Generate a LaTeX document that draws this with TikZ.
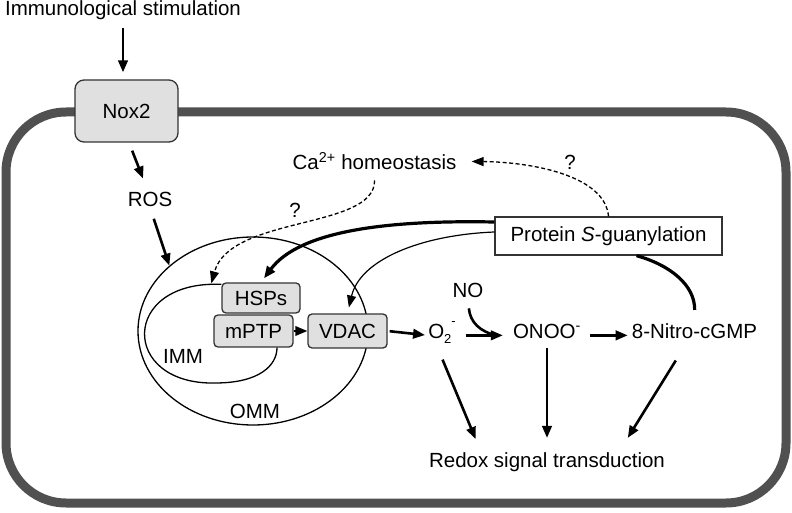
\documentclass[tikz,border=0pt]{standalone}
\usepackage{fontspec}
\setmainfont{Liberation Sans}
\usetikzlibrary{arrows.meta,shapes.geometric}
\definecolor{cellgray}{HTML}{505050}
\definecolor{boxfill}{HTML}{E0E0E0}
\definecolor{boxline}{HTML}{333333}
\newcommand{\lowtwo}{\raisebox{-0.28em}{\fontsize{13}{13}\selectfont 2}}
\newcommand{\highminus}{\raisebox{0.62em}{\fontsize{13}{13}\selectfont -}}
\begin{document}
\begin{tikzpicture}[x=1pt,y=-1pt,
  txt/.style={inner sep=0pt,anchor=base,font=\fontsize{20.5}{24}\selectfont},
  gbox/.style={draw=boxline,fill=boxfill,line width=1.3pt,rounded corners=4pt,inner sep=0pt,font=\fontsize{20.5}{24}\selectfont},
  arr/.style={line width=2.6pt,-{Triangle[length=12pt,width=9.5pt]}},
  thinarr/.style={line width=1.2pt,-{Triangle[length=12pt,width=9pt]}},
  dasharr/.style={line width=1.3pt,dash pattern=on 4pt off 2.5pt,-{Triangle[length=12pt,width=9pt]}},
  memb/.style={line width=1.3pt}]
\useasboundingbox (0,0) rectangle (792,513);
% cell outline
\draw[line width=9pt,cellgray,rounded corners=60pt] (6,112) rectangle (786,503);
% mitochondrion
\node[ellipse,draw,memb,minimum width=230pt,minimum height=188pt,inner sep=0pt] (omm) at (253,331) {};
% nodes
\node[txt] (imm) at (123,16) {Immunological stimulation};
\node[gbox,rounded corners=9pt,minimum width=103pt,minimum height=62pt] (nox) at (126.5,111) {Nox2};
\node[txt] (ros) at (150,207) {ROS};
\node[txt] (ca) at (374.5,170) {Ca\textsuperscript{2+} homeostasis};
\node[txt] (q1) at (295,217) {?};
\node[txt] (q2) at (570,170) {?};
\node[draw=boxline,fill=white,line width=1.3pt,inner sep=0pt,minimum width=227pt,minimum height=38pt,font=\fontsize{20.5}{24}\selectfont] (prot) at (608.5,236) {Protein \textit{S}-guanylation};
\node[gbox,minimum width=78pt,minimum height=30pt] (hsps) at (261,298) {HSPs};
\node[gbox,minimum width=79pt,minimum height=32pt] (mptp) at (253.5,331) {mPTP};
\node[gbox,minimum width=79pt,minimum height=34pt] (vdac) at (347.5,331) {VDAC};
\node[txt] (immlbl) at (183,363) {IMM};
\node[txt] (ommlbl) at (255,418) {OMM};
\node[txt] (no) at (468,297) {NO};
\node[txt] (o2) at (442,338) {O\lowtwo\highminus};
\node[txt] (onoo) at (547,338) {ONOO\textsuperscript{-}};
\node[txt] (nitro) at (694.5,338) {8-Nitro-cGMP};
\node[txt] (redox) at (547,467) {Redox signal transduction};
% inner membrane
\draw[memb] ([yshift=-2pt]hsps.north west) .. controls (120,280) and (120,385) .. (215,383)
  .. controls (260,383) and (277,365) .. ([xshift=23.5pt]mptp.south);
% connectors
\draw[arr,shorten <=8pt,shorten >=7pt] (imm.south) -- (imm.south |- nox.north);
\draw[arr,shorten <=8.6pt,shorten >=15pt] ([xshift=2.5pt]nox.south) -- ([xshift=-1.5pt]ros.north);
\draw[arr,shorten <=12pt] (ros.south) -- (omm.142);
\draw[arr,line width=3.2pt,shorten >=5pt] ([yshift=14pt]prot.west) .. controls (390,220) and (300,230) .. (hsps.north);
\draw[thinarr,shorten >=6pt] ([yshift=4pt]prot.west) .. controls (420,235) and (360,260) .. (vdac.north);
\draw[dasharr,shorten <=10pt] (ca.south) .. controls (375,230) and (230,215) .. ([xshift=-10pt,yshift=-1pt]hsps.north west);
\draw[dasharr,shorten >=15pt] (prot.north) .. controls (605,175) and (530,162) .. (ca.east);
\draw[line width=3.2pt,shorten <=13pt] (nitro.north) .. controls (695,285) and (670,265) .. ([xshift=28pt]prot.south);
\draw[arr,line width=2pt,shorten >=0pt] (mptp.east) -- (vdac.west);
\draw[arr,shorten <=2pt,shorten >=3pt] (vdac.east) -- (o2.mid west);
\draw[arr,shorten <=10pt,shorten >=10pt] (o2.mid east) -- (onoo.mid west);
\draw[line width=2.6pt,shorten <=11pt] (no.south) .. controls (470,322) and (480,332) .. ([xshift=-16pt,yshift=0pt]onoo.mid west);
\draw[arr,shorten <=9pt,shorten >=4pt] (onoo.mid east) -- (nitro.mid west);
\draw[arr,shorten <=17pt,shorten >=14pt] ([xshift=-6pt]o2.south) -- ([xshift=-66pt]redox.north);
\draw[arr,shorten <=10pt,shorten >=14pt] (onoo.south) -- (onoo.south |- redox.north);
\draw[arr,shorten <=26pt,shorten >=16.6pt] ([xshift=-5pt]nitro.south) -- ([xshift=72pt]redox.north);
\end{tikzpicture}
\end{document}
